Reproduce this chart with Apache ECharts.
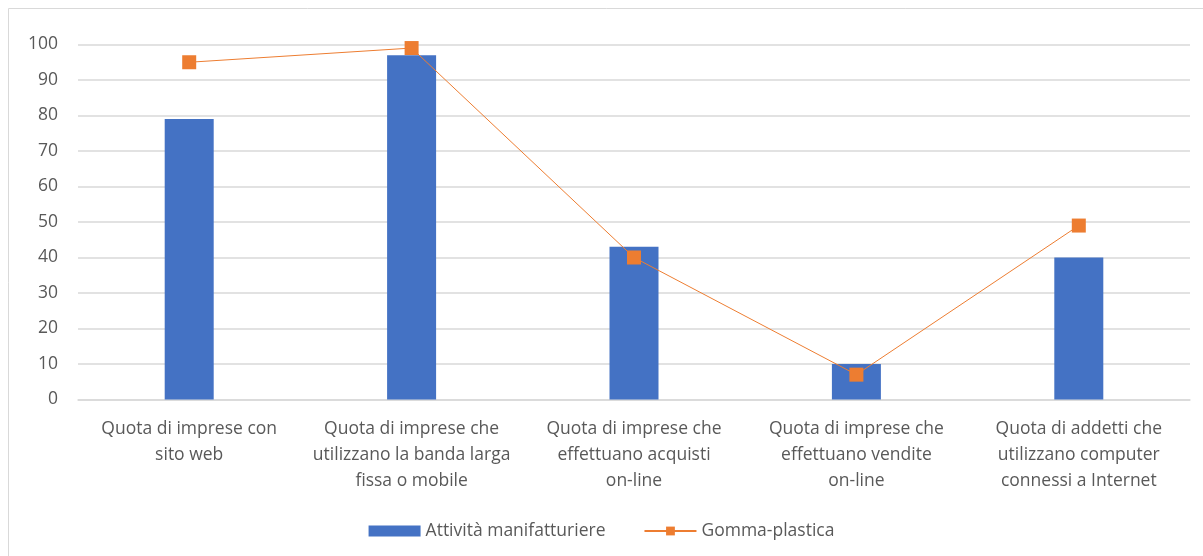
<!DOCTYPE html>
<html>
<head>
<meta charset="utf-8">
<script src="https://cdn.jsdelivr.net/npm/echarts@6/dist/echarts.min.js"></script>
<style>
  html, body { margin: 0; padding: 0; background: #fff; }
  #chart { width: 1203px; height: 556px; }
</style>
</head>
<body>
<div id="chart"></div>
<script>
const categories = [
  "Quota di imprese con\nsito web",
  "Quota di imprese che\nutilizzano la banda larga\nfissa o mobile",
  "Quota di imprese che\neffettuano acquisti\non-line",
  "Quota di imprese che\neffettuano vendite\non-line",
  "Quota di addetti che\nutilizzano computer\nconnessi a Internet"
];
const manifatturiere = [79, 97, 43, 10, 40];
const gommaPlastica = [95, 99, 40, 7, 49];

const font = "Open Sans";
const chart = echarts.init(document.getElementById("chart"));
chart.setOption({
  animation: false,
  textStyle: { fontFamily: font },
  graphic: [{
    type: "rect",
    shape: { x: 8.5, y: 8.5, width: 1200, height: 560 },
    style: { fill: "none", stroke: "#d9d9d9", lineWidth: 1 },
    silent: true
  }],
  grid: { left: 78, right: 13, top: 44.5, bottom: 156.5 },
  legend: {
    bottom: 11,
    left: "center",
    itemGap: 38,
    itemWidth: 52,
    itemHeight: 11,
    textStyle: { fontFamily: font, fontSize: 17.5, color: "#595959" },
    data: [
      { name: "Attività manifatturiere", icon: "rect" },
      { name: "Gomma-plastica" }
    ]
  },
  xAxis: {
    type: "category",
    data: categories,
    axisLine: { lineStyle: { color: "#d9d9d9", width: 1.5 } },
    axisTick: { show: false },
    axisLabel: { fontFamily: font, fontSize: 17.5, color: "#595959", lineHeight: 26, margin: 17, interval: 0 }
  },
  yAxis: {
    type: "value",
    min: 0,
    max: 100,
    interval: 10,
    axisLine: { show: false },
    axisTick: { show: false },
    splitLine: { lineStyle: { color: "#d9d9d9", width: 1.5 } },
    axisLabel: { fontFamily: font, fontSize: 17.5, color: "#595959", margin: 20 }
  },
  series: [
    {
      name: "Attività manifatturiere",
      type: "bar",
      data: manifatturiere,
      barWidth: 49,
      itemStyle: { color: "#4472C4" }
    },
    {
      name: "Gomma-plastica",
      type: "line",
      data: gommaPlastica,
      symbol: "rect",
      symbolSize: 14,
      lineStyle: { color: "#ED7D31", width: 1 },
      itemStyle: { color: "#ED7D31" }
    }
  ]
});
</script>
</body>
</html>
